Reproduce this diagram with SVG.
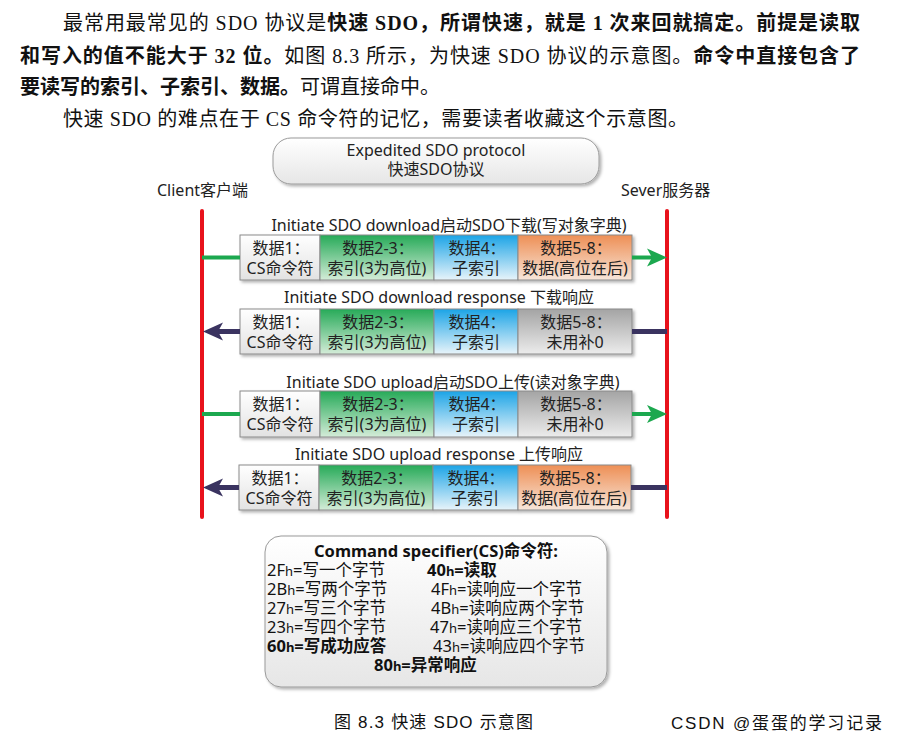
<svg xmlns="http://www.w3.org/2000/svg" width="897" height="744" viewBox="0 0 897 744">
<defs>
  <style>
    .para{font-family:"Liberation Serif","Noto Sans CJK SC",serif;font-size:20px;fill:#111}
    .b{font-weight:bold}
    .d{font-family:"Noto Sans","Noto Sans CJK SC",sans-serif;font-size:16px;fill:#222}
    .c{text-anchor:middle}
    .cell{stroke:#8a8a8a;stroke-width:1}
    .life{stroke:#e8121c;stroke-width:4;stroke-linecap:round}
    .g{stroke:#1ca84f;stroke-width:4;fill:none}
    .p{stroke:#3a3360;stroke-width:5;fill:none}
    .cmd{font-family:"Noto Sans","Noto Sans CJK SC",sans-serif;font-size:16.5px;fill:#111}
    .s{font-size:13px}
    .cap{font-family:"Liberation Sans","Noto Sans CJK SC",sans-serif;font-size:17px;fill:#111}
  </style>
  <linearGradient id="gw" x1="0" y1="0" x2="0" y2="1"><stop offset="0" stop-color="#ffffff"/><stop offset="1" stop-color="#e2e2e2"/></linearGradient>
  <linearGradient id="gg" x1="0" y1="0" x2="0" y2="1"><stop offset="0" stop-color="#26aa58"/><stop offset="1" stop-color="#d4ecd8"/></linearGradient>
  <linearGradient id="gb" x1="0" y1="0" x2="0" y2="1"><stop offset="0" stop-color="#1ca4e6"/><stop offset="1" stop-color="#e8f4fa"/></linearGradient>
  <linearGradient id="go" x1="0" y1="0" x2="0" y2="1"><stop offset="0" stop-color="#ee8f55"/><stop offset="1" stop-color="#f7e6da"/></linearGradient>
  <linearGradient id="gy" x1="0" y1="0" x2="0" y2="1"><stop offset="0" stop-color="#a4a4a4"/><stop offset="1" stop-color="#ececec"/></linearGradient>
  <linearGradient id="gbox" x1="0" y1="0" x2="0" y2="1"><stop offset="0" stop-color="#ffffff"/><stop offset="1" stop-color="#e6e6e6"/></linearGradient>
  <filter id="sh" x="-5%" y="-10%" width="112%" height="130%"><feDropShadow dx="2" dy="2" stdDeviation="1.5" flood-color="#000" flood-opacity="0.3"/></filter>
  <marker id="ag" markerUnits="userSpaceOnUse" markerWidth="20" markerHeight="20" viewBox="0 0 20 20" refX="13" refY="10" orient="auto"><path d="M0,1 L20,10 L0,19 L5,10 z" fill="#1ca84f"/></marker>
  <marker id="ap" markerUnits="userSpaceOnUse" markerWidth="20" markerHeight="20" viewBox="0 0 20 20" refX="13" refY="10" orient="auto"><path d="M0,1 L20,10 L0,19 L5,10 z" fill="#3a3360"/></marker>
</defs>
<rect width="897" height="744" fill="#fff"/>

<g id="paragraph">
  <text class="para" x="63" y="30" textLength="797" lengthAdjust="spacing">最常用最常见的 SDO 协议是<tspan class="b">快速 SDO，所谓快速，就是 1 次来回就搞定。前提是读取</tspan></text>
  <text class="para" x="20" y="63" textLength="840" lengthAdjust="spacing"><tspan class="b">和写入的值不能大于 32 位。</tspan>如图  8.3 所示，为快速 SDO 协议的示意图。<tspan class="b">命令中直接包含了</tspan></text>
  <text class="para" x="20" y="94"><tspan class="b">要读写的索引、子索引、数据。</tspan>可谓直接命中。</text>
  <text class="para" x="63" y="126" textLength="625" lengthAdjust="spacing">快速 SDO 的难点在于 CS 命令符的记忆，需要读者收藏这个示意图。</text>
</g>

<g id="title">
  <rect x="273" y="138" width="326" height="46" rx="18" fill="url(#gbox)" stroke="#9a9a9a" filter="url(#sh)"/>
  <text class="d c" x="436" y="156">Expedited SDO protocol</text>
  <text class="d c" x="436" y="175">快速SDO协议</text>
</g>

<g id="client">
  <text class="d" x="157" y="196">Client客户端</text>
  <line class="life" x1="202" y1="211" x2="202" y2="517"/>
</g>
<g id="server">
  <text class="d" x="621" y="196">Sever服务器</text>
  <line class="life" x1="667" y1="211" x2="667" y2="517"/>
</g>

<g id="frame1">
  <text class="d c" x="449" y="231">Initiate SDO download启动SDO下载(写对象字典)</text>
  <g filter="url(#sh)">
    <rect class="cell" x="240" y="235" width="80" height="45" fill="url(#gw)"/>
    <rect class="cell" x="320" y="235" width="114" height="45" fill="url(#gg)"/>
    <rect class="cell" x="434" y="235" width="84" height="45" fill="url(#gb)"/>
    <rect class="cell" x="518" y="235" width="114" height="45" fill="url(#go)"/>
  </g>
  <text class="d c" x="281" y="254">数据1：</text><text class="d c" x="280" y="274">CS命令符</text>
  <text class="d c" x="378" y="254">数据2-3：</text><text class="d c" x="377" y="274">索引(3为高位)</text>
  <text class="d c" x="477" y="254">数据4：</text><text class="d c" x="476" y="274">子索引</text>
  <text class="d c" x="576" y="254">数据5-8：</text><text class="d c" x="575" y="274">数据(高位在后)</text>
</g>

<g id="frame2">
  <text class="d c" x="439" y="303">Initiate SDO download response 下载响应</text>
  <g filter="url(#sh)">
    <rect class="cell" x="240" y="309" width="80" height="45" fill="url(#gw)"/>
    <rect class="cell" x="320" y="309" width="114" height="45" fill="url(#gg)"/>
    <rect class="cell" x="434" y="309" width="84" height="45" fill="url(#gb)"/>
    <rect class="cell" x="518" y="309" width="114" height="45" fill="url(#gy)"/>
  </g>
  <text class="d c" x="281" y="328">数据1：</text><text class="d c" x="280" y="348">CS命令符</text>
  <text class="d c" x="378" y="328">数据2-3：</text><text class="d c" x="377" y="348">索引(3为高位)</text>
  <text class="d c" x="477" y="328">数据4：</text><text class="d c" x="476" y="348">子索引</text>
  <text class="d c" x="576" y="328">数据5-8：</text><text class="d c" x="575" y="348">未用补0</text>
</g>

<g id="frame3">
  <text class="d c" x="453" y="388">Initiate SDO upload启动SDO上传(读对象字典)</text>
  <g filter="url(#sh)">
    <rect class="cell" x="240" y="391" width="80" height="46" fill="url(#gw)"/>
    <rect class="cell" x="320" y="391" width="114" height="46" fill="url(#gg)"/>
    <rect class="cell" x="434" y="391" width="84" height="46" fill="url(#gb)"/>
    <rect class="cell" x="518" y="391" width="114" height="46" fill="url(#gy)"/>
  </g>
  <text class="d c" x="281" y="410">数据1：</text><text class="d c" x="280" y="430">CS命令符</text>
  <text class="d c" x="378" y="410">数据2-3：</text><text class="d c" x="377" y="430">索引(3为高位)</text>
  <text class="d c" x="477" y="410">数据4：</text><text class="d c" x="476" y="430">子索引</text>
  <text class="d c" x="576" y="410">数据5-8：</text><text class="d c" x="575" y="430">未用补0</text>
</g>

<g id="frame4">
  <text class="d c" x="439" y="460">Initiate SDO upload response 上传响应</text>
  <g filter="url(#sh)">
    <rect class="cell" x="239" y="465" width="80" height="45" fill="url(#gw)"/>
    <rect class="cell" x="319" y="465" width="114" height="45" fill="url(#gg)"/>
    <rect class="cell" x="433" y="465" width="85" height="45" fill="url(#gb)"/>
    <rect class="cell" x="518" y="465" width="113" height="45" fill="url(#go)"/>
  </g>
  <text class="d c" x="280" y="484">数据1：</text><text class="d c" x="279" y="504">CS命令符</text>
  <text class="d c" x="377" y="484">数据2-3：</text><text class="d c" x="376" y="504">索引(3为高位)</text>
  <text class="d c" x="476" y="484">数据4：</text><text class="d c" x="475" y="504">子索引</text>
  <text class="d c" x="575" y="484">数据5-8：</text><text class="d c" x="574" y="504">数据(高位在后)</text>
</g>

<g id="connectors">
  <line class="g" x1="202" y1="257.5" x2="240" y2="257.5"/>
  <line class="g" x1="632" y1="257.5" x2="660" y2="257.5" marker-end="url(#ag)"/>
  <line class="p" x1="632" y1="331.5" x2="667" y2="331.5"/>
  <line class="p" x1="240" y1="331.5" x2="210" y2="331.5" marker-end="url(#ap)"/>
  <line class="g" x1="202" y1="414" x2="240" y2="414"/>
  <line class="g" x1="632" y1="414" x2="660" y2="414" marker-end="url(#ag)"/>
  <line class="p" x1="631" y1="487.5" x2="667" y2="487.5"/>
  <line class="p" x1="239" y1="487.5" x2="210" y2="487.5" marker-end="url(#ap)"/>
</g>

<g id="command">
  <rect x="265" y="536" width="342" height="151" rx="16" fill="url(#gbox)" stroke="#9a9a9a" filter="url(#sh)"/>
  <text class="cmd b c" x="436" y="557" font-size="17">Command specifier(CS)命令符:</text>
  <text class="cmd" x="267" y="576">2F<tspan class="s">h</tspan>=写一个字节</text>
  <text class="cmd" x="267" y="595">2B<tspan class="s">h</tspan>=写两个字节</text>
  <text class="cmd" x="267" y="614">27<tspan class="s">h</tspan>=写三个字节</text>
  <text class="cmd" x="267" y="633">23<tspan class="s">h</tspan>=写四个字节</text>
  <text class="cmd b" x="267" y="652">60<tspan class="s">h</tspan>=写成功应答</text>
  <text class="cmd b" x="427" y="576">40<tspan class="s">h</tspan>=读取</text>
  <text class="cmd" x="431" y="595">4F<tspan class="s">h</tspan>=读响应一个字节</text>
  <text class="cmd" x="431" y="614">4B<tspan class="s">h</tspan>=读响应两个字节</text>
  <text class="cmd" x="430" y="633">47<tspan class="s">h</tspan>=读响应三个字节</text>
  <text class="cmd" x="433" y="652">43<tspan class="s">h</tspan>=读响应四个字节</text>
  <text class="cmd b" x="374" y="671">80<tspan class="s">h</tspan>=异常响应</text>
</g>

<g id="caption">
  <text class="cap" x="334" y="728" textLength="199" lengthAdjust="spacing">图  8.3  快速 SDO 示意图</text>
  <text class="cap" x="671" y="729" font-size="20" fill="#a8a8a8" textLength="211" lengthAdjust="spacing">CSDN @蛋蛋的学习记录</text>
</g>
</svg>
